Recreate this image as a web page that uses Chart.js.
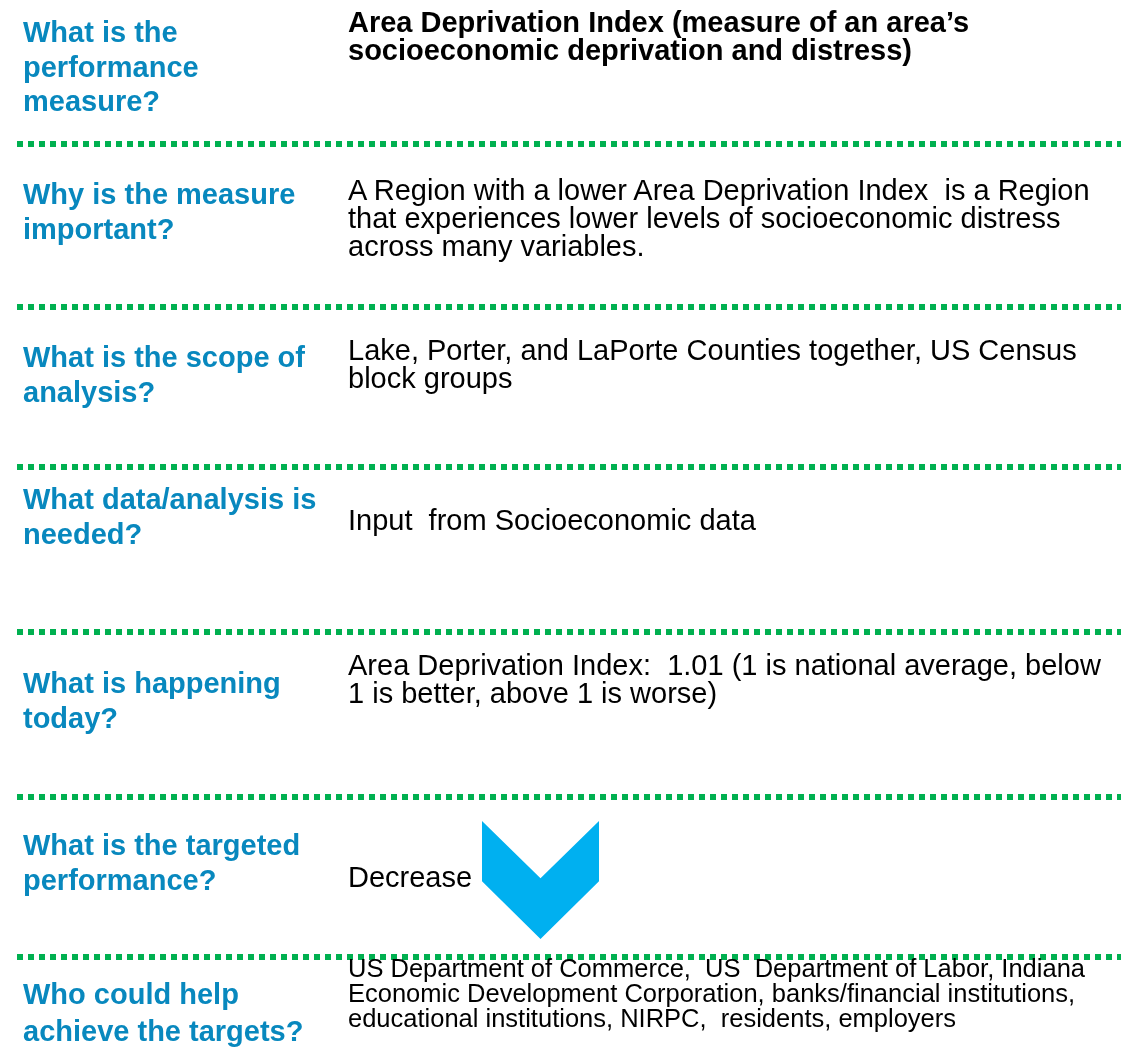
<!DOCTYPE html>
<html>
<head>
<meta charset="utf-8">
<script src="https://cdn.jsdelivr.net/npm/chart.js@4/dist/chart.umd.min.js"></script>
<style>
  html, body { margin: 0; padding: 0; background: #fff; }
  #page { position: relative; width: 1121px; height: 1062px; overflow: hidden; background: #fff; }
  #bg { position: absolute; left: 0; top: 0; }
  #arrowBox { position: absolute; }
  .q { position: absolute; left: 23px; font-family: "Liberation Sans", Arial, sans-serif; font-weight: bold; font-size: 29px; line-height: 34.5px; color: #0888be; white-space: nowrap; }
  .a { position: absolute; left: 348px; font-family: "Liberation Sans", Arial, sans-serif; font-size: 29px; line-height: 28px; color: #000; white-space: nowrap; }
  .a.bold { font-weight: bold; }
  .a.small { font-size: 25.5px; line-height: 25px; }
</style>
</head>
<body>
<div id="page">
  <canvas id="bg" width="1121" height="1062"></canvas>
  <div id="arrowBox"><canvas id="arrow" width="117" height="118"></canvas></div>
</div>
<script>
// ---- content ----
const questions = [
  ["What is the", "performance", "measure?"],
  ["Why is the measure", "important?"],
  ["What is the scope of", "analysis?"],
  ["What data/analysis is", "needed?"],
  ["What is happening", "today?"],
  ["What is the targeted", "performance?"],
  ["Who could help", "achieve the targets?"]
];
const answers = [
  ["Area Deprivation Index (measure of an area\u2019s", "socioeconomic deprivation and distress)"],
  ["A Region with a lower Area Deprivation Index\u00a0 is a Region", "that experiences lower levels of socioeconomic distress", "across many variables."],
  ["Lake, Porter, and LaPorte Counties together, US Census", "block groups"],
  ["Input\u00a0 from Socioeconomic data"],
  ["Area Deprivation Index:\u00a0 1.01 (1 is national average, below", "1 is better, above 1 is worse)"],
  ["Decrease"],
  ["US Department of Commerce,\u00a0 US\u00a0 Department of Labor, Indiana", "Economic Development Corporation, banks/financial institutions,", "educational institutions, NIRPC,\u00a0 residents, employers"]
];
const answerStyle = ["bold", "", "", "", "", "", "small"];
// target direction: chevron pointing down (Decrease)
const arrowX = [0, 1, 2];
const arrowUpper = [2, 1.03, 2];
const arrowLower = [0.98, 0, 0.98];

// ---- layout ----
const qTop = [15, 177, 340, 482, 666, 828, 976];
const qLineHeight = [34.5, 34.5, 34.5, 34.5, 34.5, 34.5, 36.5];
const aTop = [8, 176, 336, 506, 651, 863, 956];
const separatorY = [144, 307, 467, 632, 797, 957];
const arrowRect = { left: 482, top: 821, width: 117, height: 118 };

const page = document.getElementById('page');
questions.forEach((lines, i) => {
  const d = document.createElement('div');
  d.className = 'q';
  d.style.top = qTop[i] + 'px';
  d.style.lineHeight = qLineHeight[i] + 'px';
  d.innerHTML = lines.join('<br>');
  page.appendChild(d);
});
answers.forEach((lines, i) => {
  const d = document.createElement('div');
  d.className = 'a ' + answerStyle[i];
  d.style.top = aTop[i] + 'px';
  d.innerHTML = lines.join('<br>');
  page.appendChild(d);
});

// separators (dotted green rules) drawn by Chart.js
const sepDatasets = separatorY.map(y => ({
  data: [{ x: 17, y: y }, { x: 1121, y: y }],
  borderColor: '#00b050',
  borderWidth: 6,
  borderDash: [6, 5],
  borderCapStyle: 'butt',
  pointRadius: 0,
  fill: false
}));
new Chart(document.getElementById('bg'), {
  type: 'line',
  data: { datasets: sepDatasets },
  options: {
    responsive: false, animation: false, events: [],
    layout: { padding: 0 },
    plugins: { legend: { display: false }, tooltip: { enabled: false } },
    scales: {
      x: { type: 'linear', min: 0, max: 1121, display: false },
      y: { type: 'linear', min: 0, max: 1062, reverse: true, display: false }
    }
  }
});

// chevron arrow
const ab = document.getElementById('arrowBox');
ab.style.left = arrowRect.left + 'px';
ab.style.top = arrowRect.top + 'px';
new Chart(document.getElementById('arrow'), {
  type: 'line',
  data: {
    labels: arrowX,
    datasets: [
      { data: arrowUpper, borderWidth: 0, pointRadius: 0, tension: 0, backgroundColor: '#00b0f0', fill: '+1' },
      { data: arrowLower, borderWidth: 0, pointRadius: 0, tension: 0, fill: false }
    ]
  },
  options: {
    responsive: false, animation: false, events: [],
    layout: { padding: 0 },
    plugins: { legend: { display: false }, tooltip: { enabled: false } },
    scales: {
      x: { type: 'linear', min: 0, max: 2, display: false },
      y: { min: 0, max: 2, display: false }
    }
  }
});
</script>
</body>
</html>
